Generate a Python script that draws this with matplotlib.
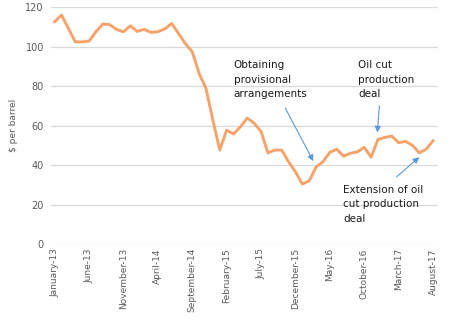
import matplotlib.pyplot as plt
import numpy as np

# monthly average crude price, January 2013 - August 2017
months = ['January-13', 'February-13', 'March-13', 'April-13', 'May-13', 'June-13',
          'July-13', 'August-13', 'September-13', 'October-13', 'November-13', 'December-13',
          'January-14', 'February-14', 'March-14', 'April-14', 'May-14', 'June-14',
          'July-14', 'August-14', 'September-14', 'October-14', 'November-14', 'December-14',
          'January-15', 'February-15', 'March-15', 'April-15', 'May-15', 'June-15',
          'July-15', 'August-15', 'September-15', 'October-15', 'November-15', 'December-15',
          'January-16', 'February-16', 'March-16', 'April-16', 'May-16', 'June-16',
          'July-16', 'August-16', 'September-16', 'October-16', 'November-16', 'December-16',
          'January-17', 'February-17', 'March-17', 'April-17', 'May-17', 'June-17',
          'July-17', 'August-17']
prices = [112.6, 116.0, 109.2, 102.4, 102.4, 102.8, 107.5, 111.4, 111.1, 108.7, 107.5, 110.5,
          107.7, 108.7, 107.2, 107.5, 108.9, 111.7, 106.7, 101.5, 97.4, 86.4, 78.8, 62.8,
          47.6, 57.7, 55.7, 59.4, 63.8, 61.2, 57.0, 46.2, 47.6, 47.6, 41.7, 36.6,
          30.4, 32.0, 39.0, 41.7, 46.5, 48.0, 44.5, 46.0, 46.7, 49.0, 44.0, 53.0,
          54.0, 54.7, 51.3, 52.0, 50.0, 46.2, 48.0, 52.3]
yticks = [0, 20, 40, 60, 80, 100, 120]

x = np.arange(len(months))

fig = plt.figure(figsize=(4.5, 3.22), dpi=100)
ax = fig.add_axes([0.113, 0.242, 0.86, 0.736])

ax.plot(x, prices, color='#F5A36A', lw=2.1, solid_joinstyle='round', zorder=3)

ax.set_ylim(0, 120)
ax.set_xlim(-0.55, len(months) - 0.3)
ax.set_yticks(yticks)
ax.set_xticks(x[::5])
ax.set_xticklabels(months[::5], rotation=90)
ax.tick_params(axis='both', length=0, labelsize=6.5, colors='#595959', pad=3)
ax.tick_params(axis='y', labelsize=7, pad=5)
ax.grid(axis='y', color='#D9D9D9', lw=0.9)
ax.set_axisbelow(True)
for s in ['top', 'right', 'left', 'bottom']:
    ax.spines[s].set_visible(False)
ax.set_ylabel('$ per barrel', fontsize=6.5, color='#595959', labelpad=5)

arrow = dict(arrowstyle='-|>', color='#5B9BD5', lw=0.8, mutation_scale=9, shrinkA=0, shrinkB=0)
txt = dict(fontsize=7.5, color='#1a1a1a', linespacing=1.55, va='top', ha='left')

ax.text(26.0, 93, 'Obtaining\nprovisional\narrangements', **txt)
ax.annotate('', xy=(37.6, 42), xytext=(33.5, 69), arrowprops=arrow)

ax.text(44.1, 93, 'Oil cut\nproduction\ndeal', **txt)
ax.annotate('', xy=(46.9, 56.5), xytext=(47.2, 70), arrowprops=arrow)

ax.text(41.9, 30, 'Extension of oil\ncut production\ndeal', **txt)
ax.annotate('', xy=(53.0, 44), xytext=(49.7, 34), arrowprops=arrow)

fig.savefig('out.png', dpi=100)
